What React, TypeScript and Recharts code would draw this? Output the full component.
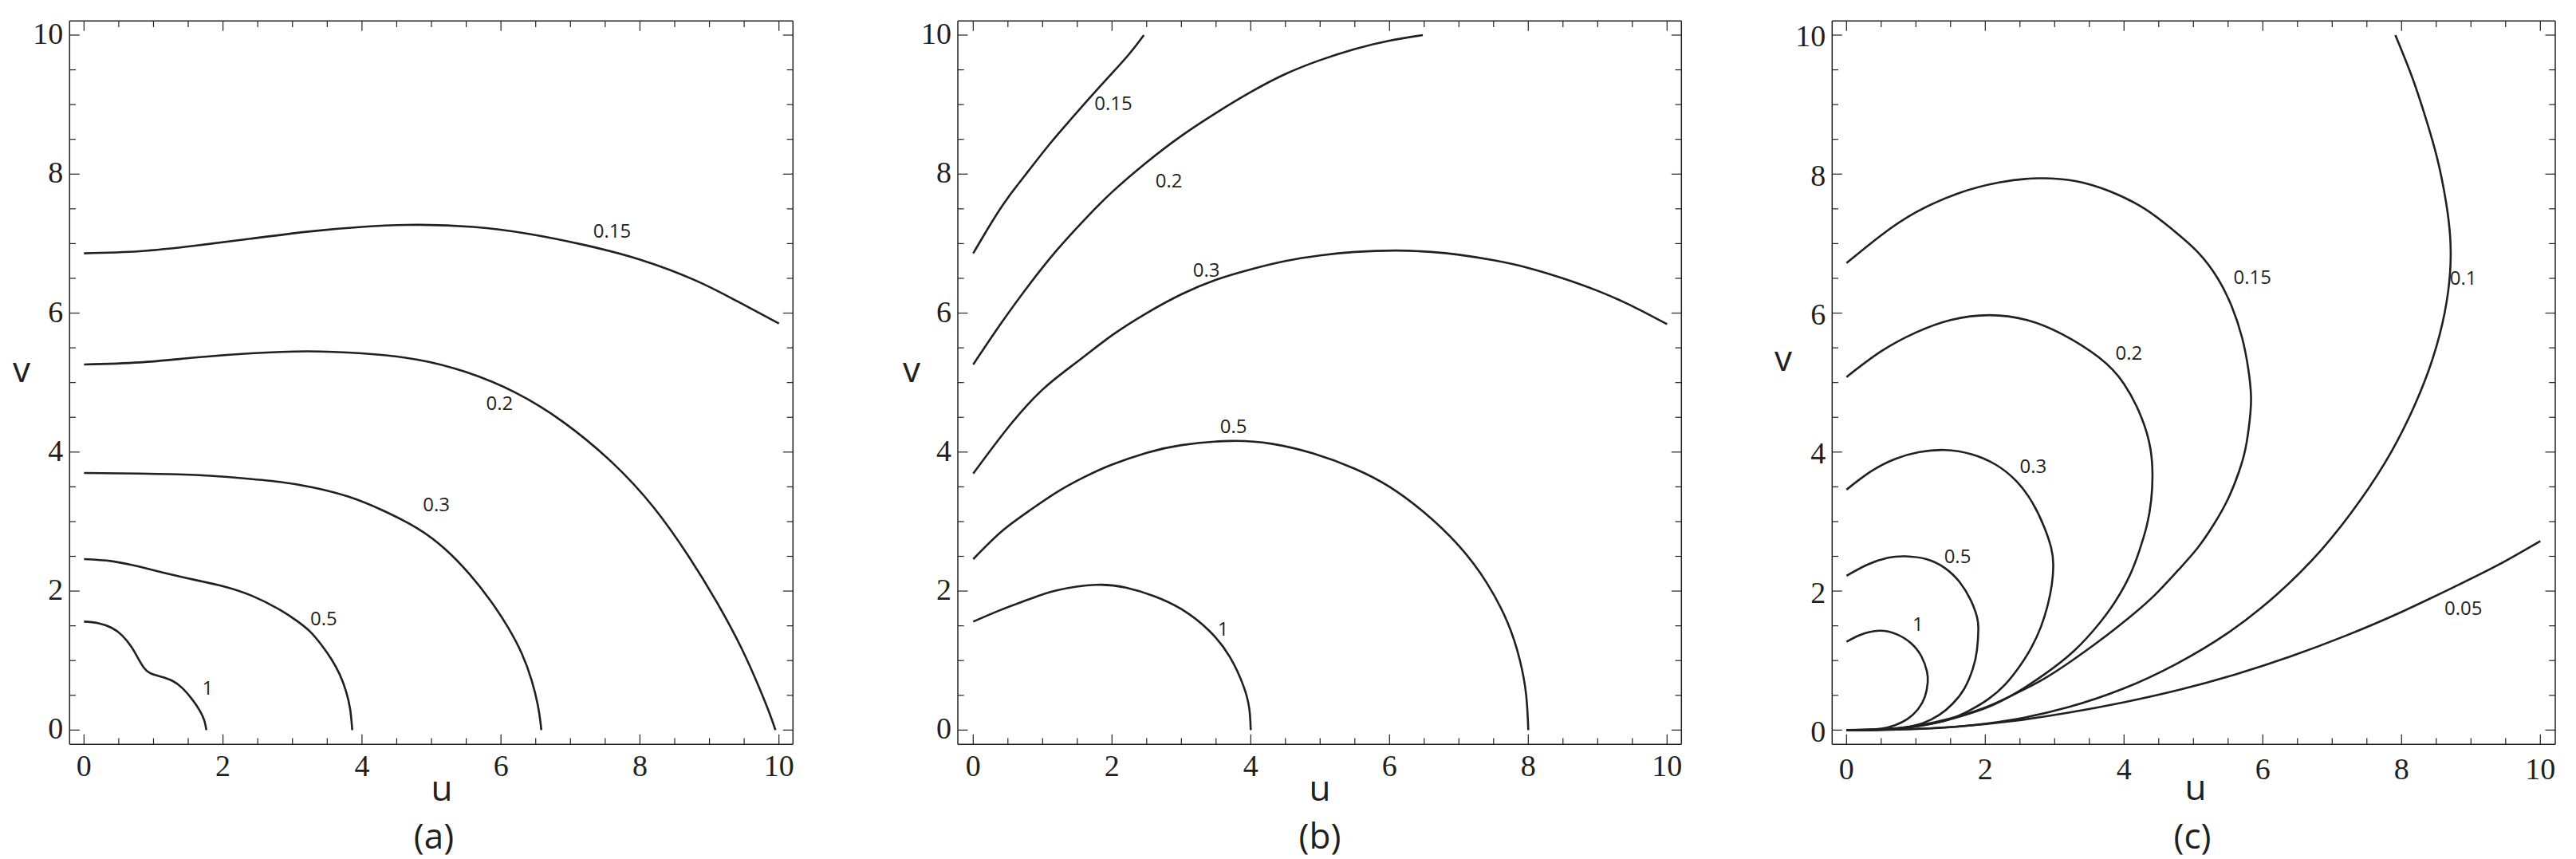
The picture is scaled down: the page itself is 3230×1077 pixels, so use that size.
import React from "react";
import { LineChart, Line, XAxis, YAxis, ReferenceDot } from "recharts";

const INK = "#231f20";

// tick values (every 0.5, labelled every 2)
const TICKS = [0, 0.5, 1, 1.5, 2, 2.5, 3, 3.5, 4, 4.5, 5, 5.5, 6, 6.5, 7, 7.5, 8, 8.5, 9, 9.5, 10];
const MAJOR_TICKS = [0, 2, 4, 6, 8, 10];

type Pt = [number, number];

// ---- panel (a) ----
const a1: Pt[] = [[0, 1.56], [0.2, 1.54], [0.4, 1.47], [0.55, 1.36], [0.68, 1.2], [0.78, 1.03], [0.86, 0.9], [0.95, 0.82], [1.1, 0.77], [1.27, 0.71], [1.42, 0.6], [1.55, 0.45], [1.66, 0.29], [1.73, 0.14], [1.76, 0]];
const a05: Pt[] = [[0, 2.46], [0.4, 2.43], [0.8, 2.35], [1.2, 2.25], [1.6, 2.16], [2.0, 2.07], [2.42, 1.93], [2.82, 1.73], [3.05, 1.58], [3.25, 1.42], [3.42, 1.22], [3.56, 1.02], [3.68, 0.8], [3.77, 0.56], [3.83, 0.3], [3.86, 0]];
const a03: Pt[] = [[0, 3.7], [0.8, 3.69], [1.6, 3.67], [2.2, 3.63], [2.82, 3.57], [3.3, 3.49], [3.8, 3.36], [4.3, 3.16], [4.8, 2.9], [5.2, 2.6], [5.55, 2.24], [5.85, 1.86], [6.1, 1.48], [6.3, 1.1], [6.44, 0.72], [6.53, 0.36], [6.57, 0.1], [6.58, 0]];
const a02: Pt[] = [[0, 5.26], [0.8, 5.29], [1.6, 5.36], [2.4, 5.42], [3.2, 5.45], [4.0, 5.42], [4.8, 5.33], [5.5, 5.15], [6.2, 4.86], [6.9, 4.43], [7.6, 3.85], [8.2, 3.2], [8.7, 2.5], [9.1, 1.85], [9.45, 1.2], [9.72, 0.6], [9.88, 0.2], [9.95, 0]];
const a015: Pt[] = [[0, 6.86], [0.8, 6.89], [1.6, 6.97], [2.4, 7.07], [3.2, 7.17], [4.0, 7.24], [4.8, 7.27], [5.6, 7.24], [6.4, 7.14], [7.2, 6.98], [8.0, 6.77], [8.8, 6.47], [9.4, 6.17], [10, 5.85]];
const aTags = [
  { text: "1", u: 1.78, v: 0.61 },
  { text: "0.5", u: 3.45, v: 1.6 },
  { text: "0.3", u: 5.07, v: 3.25 },
  { text: "0.2", u: 5.98, v: 4.7 },
  { text: "0.15", u: 7.6, v: 7.18 },
];

// ---- panel (b) ----
const b1: Pt[] = [[0, 1.56], [0.4, 1.73], [0.8, 1.88], [1.2, 2.01], [1.77, 2.09], [2.2, 2.05], [2.6, 1.93], [3.0, 1.74], [3.4, 1.43], [3.7, 1.05], [3.9, 0.62], [3.98, 0.3], [4.0, 0]];
const b05: Pt[] = [[0, 2.46], [0.4, 2.85], [0.8, 3.15], [1.2, 3.42], [1.6, 3.64], [2.0, 3.82], [2.5, 3.99], [3.0, 4.1], [3.7, 4.16], [4.3, 4.12], [4.9, 3.98], [5.5, 3.76], [6.0, 3.5], [6.5, 3.13], [7.0, 2.65], [7.4, 2.12], [7.7, 1.55], [7.88, 1.0], [7.97, 0.5], [8.0, 0]];
const b03: Pt[] = [[0, 3.69], [0.5, 4.35], [1, 4.9], [1.5, 5.3], [2, 5.68], [2.5, 6.0], [3, 6.27], [3.5, 6.48], [4, 6.63], [4.5, 6.75], [5, 6.83], [5.5, 6.88], [6.1, 6.9], [6.6, 6.88], [7, 6.84], [7.5, 6.76], [8, 6.65], [8.5, 6.5], [9, 6.32], [9.5, 6.1], [10, 5.84]];
const b02: Pt[] = [[0, 5.26], [0.4, 5.85], [0.8, 6.4], [1.2, 6.9], [1.6, 7.34], [2.0, 7.74], [2.5, 8.17], [3.0, 8.55], [3.5, 8.88], [4.0, 9.18], [4.5, 9.44], [5.0, 9.64], [5.5, 9.8], [6.0, 9.92], [6.48, 10.0]];
const b015: Pt[] = [[0, 6.86], [0.25, 7.28], [0.5, 7.66], [0.8, 8.05], [1.1, 8.43], [1.4, 8.78], [1.7, 9.12], [2.0, 9.45], [2.25, 9.73], [2.46, 10]];
const bTags = [
  { text: "1", u: 3.6, v: 1.46 },
  { text: "0.5", u: 3.75, v: 4.37 },
  { text: "0.3", u: 3.36, v: 6.62 },
  { text: "0.2", u: 2.82, v: 7.9 },
  { text: "0.15", u: 2.02, v: 9.02 },
];

// ---- panel (c) ----
const c1: Pt[] = [[0, 1.27], [0.2, 1.37], [0.47, 1.43], [0.72, 1.38], [0.93, 1.25], [1.08, 1.06], [1.16, 0.84], [1.17, 0.68], [1.13, 0.48], [1.03, 0.3], [0.88, 0.16], [0.7, 0.07], [0.5, 0.02], [0.25, 0.003], [0, 0]];
const c05: Pt[] = [[0, 2.22], [0.3, 2.38], [0.6, 2.48], [0.85, 2.5], [1.15, 2.46], [1.42, 2.33], [1.63, 2.13], [1.79, 1.87], [1.88, 1.63], [1.9, 1.45], [1.88, 1.15], [1.82, 0.88], [1.7, 0.6], [1.53, 0.38], [1.34, 0.22], [1.1, 0.1], [0.82, 0.035], [0.5, 0.005], [0, 0]];
const c03: Pt[] = [[0, 3.46], [0.35, 3.72], [0.7, 3.9], [1.05, 4.0], [1.42, 4.03], [1.8, 3.97], [2.15, 3.82], [2.45, 3.58], [2.68, 3.27], [2.85, 2.92], [2.95, 2.62], [2.98, 2.38], [2.96, 2.1], [2.9, 1.8], [2.8, 1.48], [2.66, 1.18], [2.49, 0.91], [2.29, 0.66], [2.05, 0.45], [1.77, 0.28], [1.47, 0.15], [1.12, 0.07], [0.75, 0.02], [0.35, 0.003], [0, 0]];
const c02: Pt[] = [[0, 5.08], [0.5, 5.45], [1.0, 5.72], [1.5, 5.9], [2.06, 5.97], [2.6, 5.9], [3.1, 5.7], [3.64, 5.36], [4.0, 4.98], [4.25, 4.5], [4.38, 4.05], [4.41, 3.65], [4.39, 3.3], [4.33, 2.95], [4.22, 2.58], [4.08, 2.22], [3.88, 1.86], [3.64, 1.53], [3.28, 1.14], [2.85, 0.8], [2.45, 0.54], [2.06, 0.34], [1.65, 0.2], [1.26, 0.1], [0.8, 0.03], [0.4, 0.005], [0, 0]];
const c015: Pt[] = [[0, 6.72], [0.5, 7.12], [1.0, 7.45], [1.6, 7.72], [2.2, 7.88], [2.77, 7.94], [3.3, 7.9], [3.8, 7.75], [4.3, 7.5], [4.7, 7.2], [5.06, 6.88], [5.35, 6.5], [5.55, 6.1], [5.7, 5.65], [5.79, 5.2], [5.83, 4.8], [5.81, 4.45], [5.75, 4.05], [5.65, 3.7], [5.5, 3.33], [5.3, 2.97], [5.06, 2.62], [4.78, 2.3], [4.43, 1.93], [4.05, 1.6], [3.64, 1.28], [3.25, 1.0], [2.85, 0.74], [2.45, 0.53], [2.06, 0.35], [1.65, 0.21], [1.26, 0.11], [0.85, 0.04], [0.4, 0.006], [0, 0]];
const c01: Pt[] = [[7.91, 10], [8.15, 9.4], [8.35, 8.8], [8.52, 8.2], [8.64, 7.6], [8.7, 7.1], [8.7, 6.6], [8.62, 6.0], [8.45, 5.35], [8.2, 4.7], [7.85, 4.0], [7.4, 3.3], [6.85, 2.6], [6.2, 1.95], [5.5, 1.4], [4.75, 0.95], [4.0, 0.6], [3.2, 0.33], [2.4, 0.15], [1.6, 0.05], [0.8, 0.01], [0, 0]];
const c005: Pt[] = [[0, 0], [0.8, 0.01], [1.6, 0.05], [2.4, 0.13], [3.2, 0.25], [4.0, 0.4], [4.8, 0.58], [5.6, 0.8], [6.4, 1.06], [7.2, 1.36], [8.0, 1.7], [8.8, 2.08], [9.4, 2.38], [10, 2.72]];
const cTags = [
  { text: "1", u: 1.03, v: 1.52 },
  { text: "0.5", u: 1.6, v: 2.5 },
  { text: "0.3", u: 2.69, v: 3.8 },
  { text: "0.2", u: 4.07, v: 5.43 },
  { text: "0.15", u: 5.85, v: 6.52 },
  { text: "0.1", u: 8.89, v: 6.5 },
  { text: "0.05", u: 8.89, v: 1.76 },
];

const toRows = (pts: Pt[]) => pts.map(([u, v]) => ({ u, v }));

const SERIF = "'Liberation Serif', 'Times New Roman', serif";
const SANS = "'Open Sans', 'Noto Sans', sans-serif";
const MAJOR_LEN = 12.5;
const MINOR_LEN = 7.7;
const frame = { stroke: INK, strokeWidth: 1.5 };

function tickLen(v: number) {
  return MAJOR_TICKS.includes(v) ? MAJOR_LEN : MINOR_LEN;
}

function makeTicks(dy: number) {
  const bottom = (p: any) => {
    const v = p.payload.value;
    return (
      <g>
        <line x1={p.x} y1={p.y} x2={p.x} y2={p.y - tickLen(v)} stroke={INK} strokeWidth={1.2} />
        {MAJOR_TICKS.includes(v) && (
          <text x={p.x} y={p.y + 40 + dy} textAnchor="middle" fontFamily={SERIF} fontSize={38} fill={INK}>
            {v}
          </text>
        )}
      </g>
    );
  };
  const top = (p: any) => (
    <line x1={p.x} y1={p.y} x2={p.x} y2={p.y + tickLen(p.payload.value)} stroke={INK} strokeWidth={1.2} />
  );
  const left = (p: any) => {
    const v = p.payload.value;
    return (
      <g>
        <line x1={p.x} y1={p.y} x2={p.x + tickLen(v)} y2={p.y} stroke={INK} strokeWidth={1.2} />
        {MAJOR_TICKS.includes(v) && (
          <text x={p.x - 8} y={p.y + 11 + dy} textAnchor="end" fontFamily={SERIF} fontSize={38} fill={INK}>
            {v}
          </text>
        )}
      </g>
    );
  };
  const right = (p: any) => (
    <line x1={p.x} y1={p.y} x2={p.x - tickLen(p.payload.value)} y2={p.y} stroke={INK} strokeWidth={1.2} />
  );
  return { bottom, top, left, right };
}

type PanelProps = {
  curves: Pt[][];
  tags: { text: string; u: number; v: number }[];
  left: number;
  width: number;
  margin: { top: number; right: number; bottom: number; left: number };
  uDomain: [number, number];
  dy: number;
};

const V_DOMAIN: [number, number] = [-0.206, 10.203];

function Panel({ curves, tags, left, width, margin, uDomain, dy }: PanelProps) {
  const t = makeTicks(dy);
  return (
    <div style={{ position: "absolute", left, top: 0 }}>
      <LineChart width={width} height={1077} margin={margin}>
        <XAxis type="number" dataKey="u" domain={uDomain} allowDataOverflow ticks={TICKS} interval={0}
          height={1} tickSize={0} tickMargin={0} tickLine={false} axisLine={frame} tick={t.bottom} />
        <XAxis xAxisId="top" orientation="top" type="number" dataKey="u" domain={uDomain} allowDataOverflow ticks={TICKS} interval={0}
          height={1} tickSize={0} tickMargin={0} tickLine={false} axisLine={frame} tick={t.top} />
        <YAxis type="number" domain={V_DOMAIN} allowDataOverflow ticks={TICKS} interval={0}
          width={1} tickSize={0} tickMargin={0} tickLine={false} axisLine={frame} tick={t.left} />
        <YAxis yAxisId="right" orientation="right" type="number" domain={V_DOMAIN} allowDataOverflow ticks={TICKS} interval={0}
          width={1} tickSize={0} tickMargin={0} tickLine={false} axisLine={frame} tick={t.right} />
        <Line xAxisId="top" yAxisId="right" data={toRows(curves[0])} dataKey="v" stroke="none" dot={false}
          activeDot={false} isAnimationActive={false} />
        {curves.map((c, i) => (
          <Line key={i} data={toRows(c)} dataKey="v" type="natural" stroke={INK} strokeWidth={2.6}
            dot={false} activeDot={false} isAnimationActive={false} />
        ))}
        {tags.map((g) => (
          <ReferenceDot key={g.text} x={g.u} y={g.v} r={0} fill="none" stroke="none" ifOverflow="visible"
            label={{ value: g.text, position: "center", fill: INK, fontSize: 24, fontFamily: SANS }} />
        ))}
      </LineChart>
    </div>
  );
}

const axisText = { fontFamily: SANS, fontSize: 44, fill: INK, textAnchor: "middle" as const };

export default function App() {
  return (
    <div style={{ position: "absolute", left: 0, top: 0, width: 3230, height: 1077, background: "#fff" }}>
      <Panel curves={[a1, a05, a03, a02, a015]} tags={aTags} left={0} width={1100}
        margin={{ top: 25.3, left: 86.3, right: 104.7, bottom: 142.7 }} uDomain={[-0.207, 10.202]} dy={0} />
      <Panel curves={[b1, b05, b03, b02, b015]} tags={bTags} left={1100} width={1100}
        margin={{ top: 25.3, left: 100, right: 90.7, bottom: 142.7 }} uDomain={[-0.222, 10.207]} dy={0} />
      <Panel curves={[c1, c05, c03, c02, c015, c01, c005]} tags={cTags} left={2200} width={1030}
        margin={{ top: 25.3, left: 96.3, right: 25, bottom: 142.7 }} uDomain={[-0.207, 10.215]} dy={3.5} />
      <svg width={3230} height={1077} style={{ position: "absolute", left: 0, top: 0, pointerEvents: "none" }}>
        <text x={27} y={479} {...axisText}>v</text>
        <text x={554} y={1004} {...axisText}>u</text>
        <text x={544} y={1064} {...axisText}>(a)</text>
        <text x={1143} y={479} {...axisText}>v</text>
        <text x={1655} y={1004} {...axisText}>u</text>
        <text x={1655} y={1064} {...axisText}>(b)</text>
        <text x={2236} y={465} {...axisText}>v</text>
        <text x={2753} y={1003} {...axisText}>u</text>
        <text x={2749} y={1064} {...axisText}>(c)</text>
      </svg>
    </div>
  );
}
